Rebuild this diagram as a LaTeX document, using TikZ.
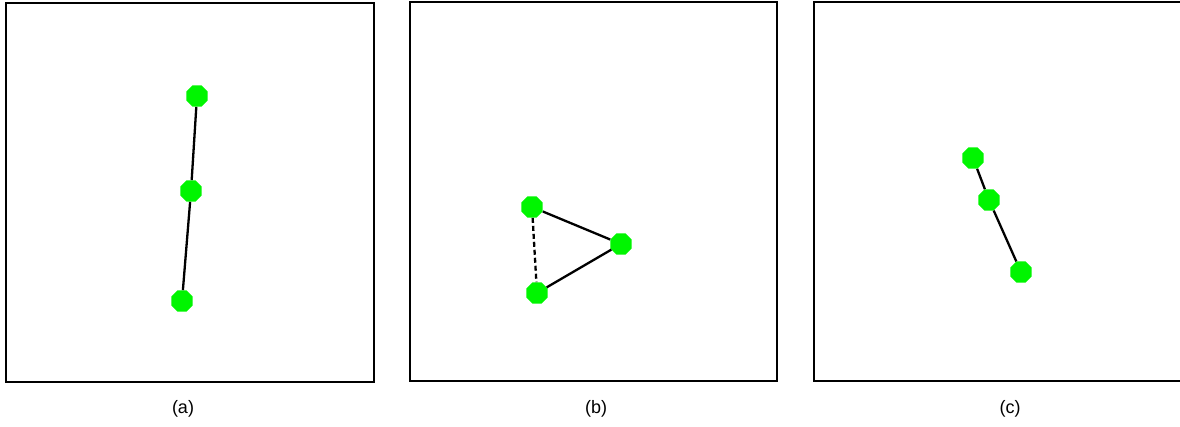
\documentclass[tikz,border=0pt]{standalone}
\usepackage{fontspec}
\setsansfont{Liberation Sans}
\usepackage{xcolor}
\usepackage{tikz}
\usetikzlibrary{shapes.geometric}
\definecolor{dotgreen}{RGB}{0,245,0}

\begin{document}
\begin{tikzpicture}[
    x=1pt, y=-1pt,
    panel/.style={draw, line width=2.6pt},
    dot/.style={regular polygon, regular polygon sides=8, fill=dotgreen, inner sep=0pt, minimum size=23pt},
    link/.style={line width=2.3pt},
    caption/.style={font=\sffamily\fontsize{18}{21}\selectfont}
]
\useasboundingbox (0,0) rectangle (1180,427);

% panel (a)
\draw[panel] (6,3) rectangle (374,382);
\node[dot] (a1) at (197,96) {};
\node[dot] (a2) at (191,191) {};
\node[dot] (a3) at (182,301) {};
\draw[link] (a1) -- (a2);
\draw[link] (a2) -- (a3);
\node[caption] (capa) at (183,409) {(a)};

% panel (b)
\draw[panel] (410,2) rectangle (777,381);
\node[dot] (b1) at (532,207) {};
\node[dot] (b2) at (621,244) {};
\node[dot] (b3) at (537,293) {};
\draw[link] (b1) -- (b2);
\draw[link] (b2) -- (b3);
\draw[link, dash pattern=on 5pt off 3pt] (b1) -- (b3);
\node[caption] (capb) at (596,409) {(b)};

% panel (c)
\draw[panel] (814,2) rectangle (1183,381);
\node[dot] (c1) at (973,158) {};
\node[dot] (c2) at (989,200) {};
\node[dot] (c3) at (1021,272) {};
\draw[link] (c1) -- (c2);
\draw[link] (c2) -- (c3);
\node[caption] (capc) at (1010,409) {(c)};
\end{tikzpicture}
\end{document}
